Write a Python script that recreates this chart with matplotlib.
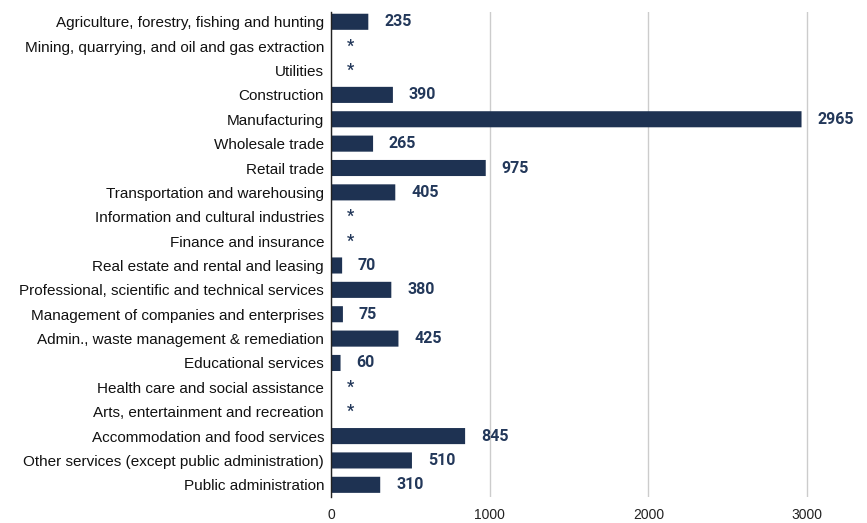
import matplotlib
matplotlib.use("Agg")
import matplotlib.pyplot as plt
from matplotlib.patches import FancyBboxPatch

# ---------- data ----------
industries = [
    "Agriculture, forestry, fishing and hunting",
    "Mining, quarrying, and oil and gas extraction",
    "Utilities",
    "Construction",
    "Manufacturing",
    "Wholesale trade",
    "Retail trade",
    "Transportation and warehousing",
    "Information and cultural industries",
    "Finance and insurance",
    "Real estate and rental and leasing",
    "Professional, scientific and technical services",
    "Management of companies and enterprises",
    "Admin., waste management & remediation",
    "Educational services",
    "Health care and social assistance",
    "Arts, entertainment and recreation",
    "Accommodation and food services",
    "Other services (except public administration)",
    "Public administration",
]
# None = suppressed value (shown as *)
counts = [235, None, None, 390, 2965, 265, 975, 405, None, None,
          70, 380, 75, 425, 60, None, None, 845, 510, 310]

bar_color = "#1e3252"
label_color = "#23385a"

plt.rcParams["font.family"] = ["Liberation Sans", "DejaVu Sans"]

fig = plt.figure(figsize=(8.67, 5.23), dpi=100)
ax = fig.add_axes([0.3818, 0.0497, 0.604, 0.9273])

ypos = list(range(len(industries)))
bar_h = 0.66
for y, v in zip(ypos, counts):
    if v is None:
        ax.text(125, y, "*", ha="center", va="center", fontsize=11.5,
                fontweight="bold", color=label_color, family="Roboto")
        continue
    ax.add_patch(FancyBboxPatch((0, y - bar_h / 2), v, bar_h,
                                boxstyle="round,pad=0,rounding_size=0.08",
                                mutation_aspect=1, linewidth=0,
                                facecolor=bar_color, zorder=3))
    ax.text(v + 100, y, str(v), ha="left", va="center", fontsize=11.5,
            fontweight="bold", color=label_color, zorder=4, family="Roboto")

ax.set_xlim(0, 3300)
ax.set_ylim(19.5, -0.4)
ax.set_yticks(ypos)
ax.set_yticklabels(industries, fontsize=11, color="#111111")
ax.set_xticks([0, 1000, 2000, 3000])
ax.tick_params(axis="x", labelsize=10, length=0, pad=8, colors="#222222")
ax.tick_params(axis="y", length=0, pad=5)
ax.grid(axis="x", color="#cccccc", linewidth=1, zorder=0)
for s in ["top", "right", "bottom"]:
    ax.spines[s].set_visible(False)
ax.spines["left"].set_color("#222222")
ax.spines["left"].set_linewidth(1)
ax.spines["left"].set_zorder(5)

fig.savefig("out.png", dpi=100)
